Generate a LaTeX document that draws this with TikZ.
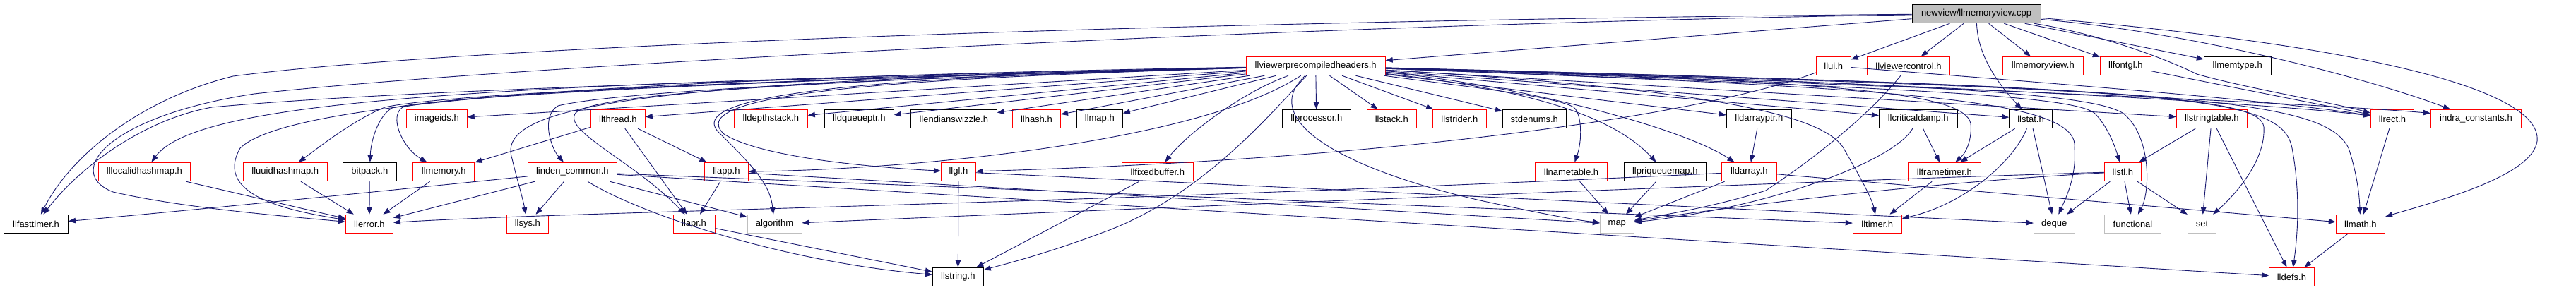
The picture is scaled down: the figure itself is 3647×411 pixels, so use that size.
\documentclass[tikz,border=0pt]{standalone}
\usepackage{fontspec}
\setmainfont{Liberation Sans}
\usetikzlibrary{arrows.meta}
\definecolor{navyc}{HTML}{191970}
\definecolor{gray75}{HTML}{BFBFBF}
\definecolor{redc}{HTML}{FF0000}
\tikzset{
 box/.style={draw, rectangle, minimum height=26.5pt, inner sep=0pt, line width=1pt, font=\fontsize{13}{15}\selectfont, text=black},
 rb/.style={box, draw=redc},
 bb/.style={box, draw=black},
 gb/.style={box, draw=gray75},
 e/.style={draw=navyc, line width=0.9pt, -{Triangle[length=10pt,width=7.5pt]}}
}
\begin{document}
\begin{tikzpicture}[x=1pt,y=-1pt]
\useasboundingbox (0,0) rectangle (3647,411);
% row 0
\node[bb, fill=gray75, minimum width=182pt] (root) at (2798,19.5) {newview/llmemoryview.cpp};
% row 1
\node[rb, minimum width=197pt] (pch) at (1862.7,93.5) {llviewerprecompiledheaders.h};
\node[rb, minimum width=49pt] (llui) at (2595.7,93.5) {llui.h};
\node[rb, minimum width=117.4pt] (vctrl) at (2702,93.5) {llviewercontrol.h};
\node[rb, minimum width=114pt] (memview) at (2892.3,93.5) {llmemoryview.h};
\node[rb, minimum width=72pt] (fontgl) at (3009.3,93.5) {llfontgl.h};
\node[bb, minimum width=94.7pt] (memtype) at (3167.7,93.5) {llmemtype.h};
% row 2
\node[rb, minimum width=85.8pt] (imageids) at (618.3,168.5) {imageids.h};
\node[rb, minimum width=76.8pt] (thread) at (874.9,168.5) {llthread.h};
\node[rb, minimum width=104pt] (depth) at (1091.3,168.5) {lldepthstack.h};
\node[bb, minimum width=97.8pt] (dqueue) at (1216.3,168.5) {lldqueueptr.h};
\node[bb, minimum width=121.9pt] (endian) at (1350.3,168.5) {llendianswizzle.h};
\node[rb, minimum width=68.1pt] (hash) at (1467.4,168.5) {llhash.h};
\node[bb, minimum width=65.1pt] (llmapn) at (1556.8,168.5) {llmap.h};
\node[bb, minimum width=97.1pt] (proc) at (1863.8,168.5) {llprocessor.h};
\node[rb, minimum width=69.9pt] (stack) at (1970.3,168.5) {llstack.h};
\node[rb, minimum width=76.1pt] (strider) at (2066.4,168.5) {llstrider.h};
\node[bb, minimum width=90.2pt] (stdenums) at (2172.3,168.5) {stdenums.h};
\node[bb, minimum width=92pt] (darrptr) at (2490.3,168.5) {lldarrayptr.h};
\node[bb, minimum width=110.8pt] (critdamp) at (2715.7,168.5) {llcriticaldamp.h};
\node[bb, minimum width=60.9pt] (stat) at (2875,168.5) {llstat.h};
\node[rb, minimum width=100pt] (strtab) at (3131.3,168.5) {llstringtable.h};
\node[rb, minimum width=61.2pt] (rect) at (3386.9,168.5) {llrect.h};
\node[rb, minimum width=128.1pt] (indra) at (3505.4,168.5) {indra\_constants.h};
% row 3
\node[rb, minimum width=129.8pt] (localid) at (204.4,243.5) {lllocalidhashmap.h};
\node[rb, minimum width=118.8pt] (uuidhm) at (403.8,243.5) {lluuidhashmap.h};
\node[bb, minimum width=76.1pt] (bitpack) at (523.3,243.5) {bitpack.h};
\node[rb, minimum width=87.5pt] (memory) at (628.2,243.5) {llmemory.h};
\node[rb, minimum width=126pt] (linden) at (810.3,243.5) {linden\_common.h};
\node[rb, minimum width=61.3pt] (app) at (1028.4,243.5) {llapp.h};
\node[rb, minimum width=48.9pt] (gl) at (1356.9,243.5) {llgl.h};
\node[rb, minimum width=101pt] (fixbuf) at (1638.8,243.5) {llfixedbuffer.h};
\node[rb, minimum width=102.3pt] (nametab) at (2224.5,243.5) {llnametable.h};
\node[bb, minimum width=116pt] (priq) at (2357.3,243.5) {llpriqueuemap.h};
\node[rb, minimum width=78pt] (darray) at (2476.3,243.5) {lldarray.h};
\node[rb, minimum width=102.9pt] (frametimer) at (2752.8,243.5) {llframetimer.h};
\node[rb, minimum width=51.6pt] (stl) at (3005.3,243.5) {llstl.h};
% row 4
\node[bb, minimum width=90.9pt] (fasttimer) at (51,317.5) {llfasttimer.h};
\node[rb, minimum width=67.2pt] (error) at (522.9,317.5) {llerror.h};
\node[rb, minimum width=58.9pt] (sys) at (746.8,317.5) {llsys.h};
\node[rb, minimum width=59pt] (apr) at (982.5,317.5) {llapr.h};
\node[gb, minimum width=77pt] (algo) at (1096.5,317.5) {algorithm};
\node[gb, minimum width=48pt] (mapn) at (2289.3,317.5) {map};
\node[rb, minimum width=69pt] (timer) at (2657.8,317.5) {lltimer.h};
\node[gb, minimum width=57.8pt] (deque) at (2908.2,317.5) {deque};
\node[gb, minimum width=79.9pt] (functional) at (3019.5,317.5) {functional};
\node[gb, minimum width=40.3pt] (set) at (3117.4,317.5) {set};
\node[rb, minimum width=69.3pt] (math) at (3341.9,317.5) {llmath.h};
% row 5
\node[bb, minimum width=72pt] (strg) at (1356.3,392.5) {llstring.h};
\node[rb, minimum width=63.9pt] (defs) at (3244.4,392.5) {lldefs.h};

% root edges
\draw[e] (root) -- (pch);
\draw[e] (root) .. controls (1800,28) and (700,60) .. (330,108) .. controls (200,140) and (100,220) .. (fasttimer);
\draw[e] (root) .. controls (1800,35) and (700,95) .. (360,133) .. controls (150,165) and (90,245) .. (160,272) .. controls (260,295) and (400,306) .. (error);
\draw[e] (root) -- (llui);
\draw[e] (root) -- (vctrl);
\draw[e] (root) .. controls (2800,80) and (2830,120) .. (stat);
\draw[e] (root) -- (memview);
\draw[e] (root) -- (fontgl);
\draw[e] (root) -- (memtype);
\draw[e] (root) .. controls (2980,50) and (3070,85) .. (3110,105) .. controls (3180,125) and (3300,145) .. (rect);
\draw[e] ([yshift=-8pt]root.east) .. controls (3100,45) and (3350,110) .. (indra);
\draw[e] ([yshift=-6pt]root.east) .. controls (3300,60) and (3600,120) .. (3592,200) .. controls (3585,250) and (3450,285) .. (math);

% pch edges
\draw[e] (pch) .. controls (1200,110) and (600,125) .. (300,152) .. controls (200,170) and (110,240) .. (fasttimer);
\draw[e] (pch) .. controls (700,118) and (280,140) .. (localid);
\draw[e] (pch) .. controls (1000,115) and (620,135) .. (545,152) .. controls (500,170) and (450,210) .. (uuidhm);
\draw[e] (pch) .. controls (1000,115) and (620,138) .. (555,153) .. controls (535,165) and (525,200) .. (bitpack);
\draw[e] (pch) .. controls (800,112) and (400,150) .. (340,210) .. controls (300,280) and (420,300) .. (error);
\draw[e] (pch) .. controls (1000,115) and (640,135) .. (570,152) .. controls (550,165) and (570,210) .. (memory);
\draw[e] (pch) -- (imageids);
\draw[e] (pch) -- (thread);
\draw[e] (pch) .. controls (1100,115) and (850,135) .. (790,150) .. controls (765,165) and (780,210) .. (linden);
\draw[e] (pch) .. controls (900,115) and (700,150) .. (725,225) .. controls (732,255) and (740,280) .. (sys);
\draw[e] (pch) .. controls (1100,115) and (840,135) .. (815,160) .. controls (795,185) and (900,230) .. (apr);
\draw[e] (pch) .. controls (1700,200) and (1300,240) .. (app);
\draw[e] (pch) -- (depth);
\draw[e] (pch) -- (dqueue);
\draw[e] (pch) -- (endian);
\draw[e] (pch) -- (hash);
\draw[e] (pch) -- (llmapn);
\draw[e] (pch) .. controls (1300,110) and (960,130) .. (1025,190) .. controls (1080,225) and (1250,238) .. (gl);
\draw[e] (pch) .. controls (1300,108) and (950,128) .. (1020,190) .. controls (1065,235) and (1090,260) .. (algo);
\draw[e] (pch) .. controls (1800,160) and (1700,280) .. (1560,330) .. controls (1480,360) and (1420,375) .. (strg);
\draw[e] (pch) -- (proc);
\draw[e] (pch) -- (stack);
\draw[e] (pch) -- (strider);
\draw[e] (pch) -- (stdenums);
\draw[e] (pch) .. controls (1760,130) and (1680,190) .. (fixbuf);
\draw[e] (pch) .. controls (2050,120) and (2200,135) .. (2228,152) .. controls (2240,162) and (2240,200) .. (nametab);
\draw[e] (pch) .. controls (2150,125) and (2280,160) .. (priq);
\draw[e] (pch) -- (darrptr);
\draw[e] (pch) .. controls (2150,120) and (2380,180) .. (darray);
\draw[e] (pch) .. controls (1780,170) and (1900,240) .. (2100,285) .. controls (2180,302) and (2230,312) .. (mapn);
\draw[e] (pch) -- (critdamp);
\draw[e] (pch) -- (stat);
\draw[e] (pch) .. controls (2600,115) and (2780,130) .. (2790,175) .. controls (2792,195) and (2785,215) .. (frametimer);
\draw[e] (pch) .. controls (2400,125) and (2580,160) .. (2610,210) .. controls (2630,245) and (2650,280) .. (timer);
\draw[e] (pch) .. controls (2700,125) and (2945,140) .. (2937,210) .. controls (2940,250) and (2925,280) .. (deque);
\draw[e] (pch) .. controls (2700,125) and (2930,135) .. (2965,160) .. controls (2985,180) and (2995,210) .. (stl);
\draw[e] (pch) .. controls (2800,120) and (2960,135) .. (3005,160) .. controls (3045,190) and (3045,270) .. (functional);
\draw[e] (pch) -- (strtab);
\draw[e] (pch) .. controls (3000,125) and (3200,135) .. (3205,180) .. controls (3208,230) and (3160,280) .. (set);
\draw[e] (pch) .. controls (2800,120) and (3250,150) .. (rect);
\draw[e] (pch) .. controls (2800,125) and (3300,148) .. ([yshift=8pt]indra.west);
\draw[e] (pch) .. controls (3100,125) and (3290,140) .. (3325,210) .. controls (3335,240) and (3340,270) .. (math);
\draw[e] (pch) .. controls (3100,125) and (3230,135) .. (3245,210) .. controls (3258,280) and (3252,340) .. (defs);

% other edges
\draw[e] (thread) -- (memory);
\draw[e] (thread) -- (app);
\draw[e] (thread) -- (apr);
\draw[e] (memory) -- (error);
\draw[e] (localid) -- (error);
\draw[e] (uuidhm) -- (error);
\draw[e] (bitpack) -- (error);
\draw[e] (linden) .. controls (500,275) and (250,300) .. (fasttimer);
\draw[e] (linden) -- (error);
\draw[e] (linden) -- (sys);
\draw[e] (linden) .. controls (900,300) and (1100,370) .. (strg);
\draw[e] (linden) -- (algo);
\draw[e] (linden) -- (timer);
\draw[e] (linden) -- (defs);
\draw[e] (app) -- (apr);
\draw[e] (app) -- (mapn);
\draw[e] (apr) -- (strg);
\draw[e] (gl) -- (strg);
\draw[e] (gl) -- (deque);
\draw[e] (fixbuf) -- (strg);
\draw[e] (nametab) -- (mapn);
\draw[e] (priq) -- (mapn);
\draw[e] (darray) -- (mapn);
\draw[e] (darrptr) -- (darray);
\draw[e] (darray) .. controls (1500,290) and (800,300) .. (error);
\draw[e] (darray) -- (math);
\draw[e] (critdamp) -- (frametimer);
\draw[e] (critdamp) .. controls (2680,230) and (2500,295) .. (mapn);
\draw[e] (vctrl) .. controls (2640,170) and (2560,230) .. (2500,270) .. controls (2420,295) and (2350,305) .. (mapn);
\draw[e] (llui) .. controls (2420,160) and (2000,225) .. (gl);
\draw[e] (llui) .. controls (2900,118) and (3200,140) .. (rect);
\draw[e] (fontgl) -- (rect);
\draw[e] (stat) -- (frametimer);
\draw[e] (stat) .. controls (2850,230) and (2780,290) .. (timer);
\draw[e] (stat) -- (deque);
\draw[e] (frametimer) -- (timer);
\draw[e] (stl) -- (deque);
\draw[e] (stl) -- (functional);
\draw[e] (stl) -- (set);
\draw[e] (stl) .. controls (2600,255) and (1500,300) .. (algo);
\draw[e] (stl) .. controls (2700,260) and (2400,300) .. (mapn);
\draw[e] (strtab) -- (stl);
\draw[e] (strtab) -- (set);
\draw[e] (strtab) -- (defs);
\draw[e] (rect) -- (math);
\draw[e] (math) -- (defs);
\end{tikzpicture}
\end{document}
